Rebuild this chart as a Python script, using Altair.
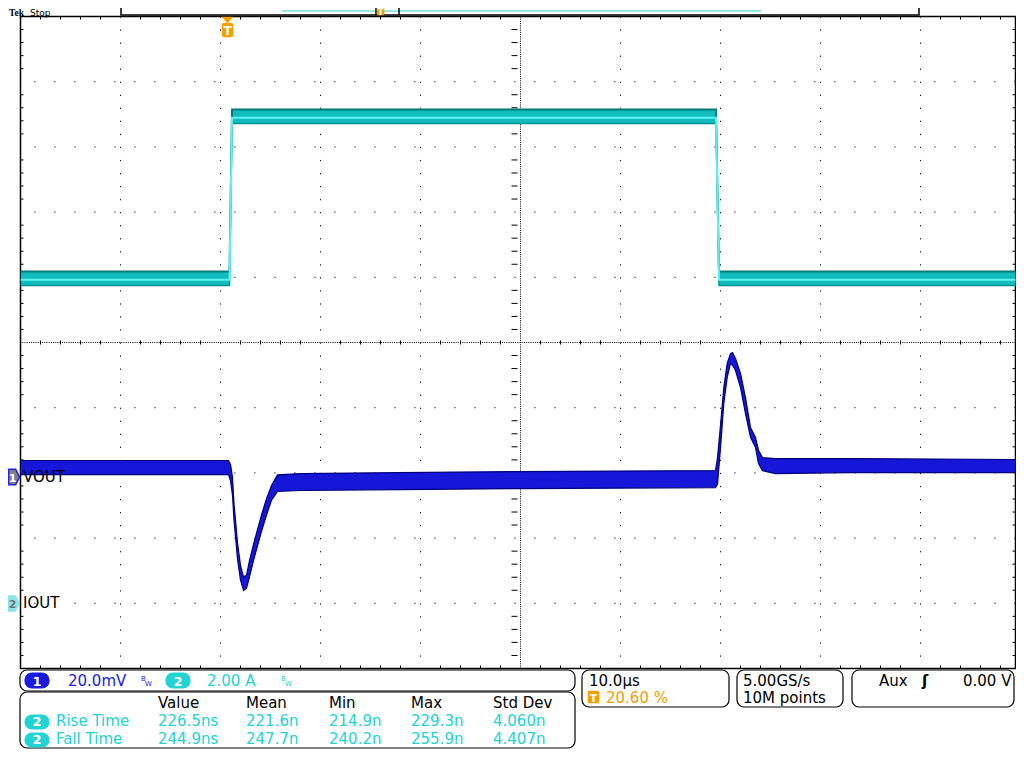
import altair as alt
import pandas as pd

# ---------------- values ----------------
# time: µs from the left edge of the screen (10 µs/div)
VOUT_T = [0.0, 20.8, 21.0, 21.2, 21.35, 21.7, 22.0, 22.3, 22.6, 22.9,
          23.3, 23.7, 24.1, 24.6, 25.1, 25.7, 28.0, 38.0, 50.0, 69.5,
          69.7, 70.0, 70.33, 70.67, 71.0, 71.2, 71.5, 72.0, 72.5, 73.0,
          73.5, 73.8, 74.2, 75.5, 83.0, 100.0]
# VOUT ripple envelope, mV relative to the channel-1 marker
VOUT_HI = [5.2, 5.2, 4.0, 0.0, -8.0, -20.0, -27.0, -30.5, -30.0, -25.5,
           -20.5, -16.0, -11.5, -6.5, -2.5, 0.8, 1.2, 1.5, 1.8, 2.1,
           6.0, 16.0, 27.6, 35.0, 38.0, 38.3, 36.5, 31.9, 24.5, 15.3,
           12.3, 8.3, 6.1, 5.8, 5.8, 5.5]
VOUT_LO = [0.9, 0.9, -1.0, -5.5, -13.0, -25.0, -31.5, -34.7, -34.0, -30.5,
           -25.5, -21.0, -16.5, -11.5, -7.0, -4.3, -4.0, -3.7, -3.4, -3.1,
           -2.0, 9.0, 22.7, 30.7, 35.0, 34.4, 32.8, 27.6, 19.6, 12.3,
           9.2, 4.3, 2.1, 1.2, 1.5, 1.5]
# IOUT envelope, A
IOUT_T = [0.0, 20.9, 21.15, 69.55, 69.85, 100.0]
IOUT_HI = [10.18, 10.18, 15.15, 15.15, 10.18, 10.18]
IOUT_LO = [9.75, 9.75, 14.72, 14.72, 9.75, 9.75]

CH1_SCALE, CH1_POS = 20.0, -2.07   # mV/div, div
CH2_SCALE, CH2_POS = 2.0, -4.0     # A/div, div

MEAS_HEAD = ["Value", "Mean", "Min", "Max", "Std Dev"]
MEAS_ROWS = ["Rise Time", "Fall Time"]
RISE_VALS = ["226.5ns", "221.6n", "214.9n", "229.3n", "4.060n"]
FALL_VALS = ["244.9ns", "247.7n", "240.2n", "255.9n", "4.407n"]

BLUE = "#1a1ae0"
CYAN = "#22d3d3"
ORANGE = "#f2a000"

vout = pd.DataFrame({"t": VOUT_T, "hi": VOUT_HI, "lo": VOUT_LO})
iout = pd.DataFrame({"t": IOUT_T, "hi": IOUT_HI, "lo": IOUT_LO})

W, H = 995, 652
xs = alt.Scale(domain=[0, 99.5], nice=False, zero=False)
ys = alt.Scale(domain=[-5, 5], nice=False, zero=False)

# ---------------- graticule (10 x 10 divisions, 5 minor per division) ----------------
def vrules(vals, dash):
    return alt.Chart(pd.DataFrame({"g": vals})).mark_rule(
        color="black", strokeWidth=1, strokeDash=dash).encode(
        x=alt.X("g:Q", scale=xs, axis=None))


def hrules(vals, dash):
    return alt.Chart(pd.DataFrame({"g": vals})).mark_rule(
        color="black", strokeWidth=1, strokeDash=dash).encode(
        y=alt.Y("g:Q", scale=ys, axis=None))


grid = [
    vrules([10 * k for k in range(1, 10) if k != 5], [1.2, 11.84]),
    vrules([2 * k for k in range(1, 50) if k % 5 != 0], [3, 321, 4, 321, 3]),
    vrules([50], [1, 1.2]),
    hrules([k for k in range(-4, 5) if k != 0], [1.2, 18.8]),
    hrules([round(0.2 * k, 1) for k in range(-24, 25) if k % 5 != 0], [3, 495, 6, 488, 3]),
    hrules([0], [1, 1.2]),
]

# ---------------- traces ----------------
ib = alt.Chart(iout).transform_calculate(
    yh=f"datum.hi / {CH2_SCALE} + ({CH2_POS})",
    yl=f"datum.lo / {CH2_SCALE} + ({CH2_POS})",
    yc=f"(0.4 * datum.hi + 0.6 * datum.lo) / {CH2_SCALE} + ({CH2_POS})",
)
X = alt.X("t:Q", scale=xs, axis=None)
i_area = ib.mark_area(color="#12bcbc", opacity=1, clip=True).encode(
    x=X, y=alt.Y("yl:Q", scale=ys, axis=None), y2="yh:Q")
i_hi = ib.mark_line(color="#007a7a", strokeWidth=2, clip=True).encode(
    x=X, y=alt.Y("yh:Q", scale=ys, axis=None))
i_lo = ib.mark_line(color="#009494", strokeWidth=1.5, clip=True).encode(
    x=X, y=alt.Y("yl:Q", scale=ys, axis=None))
i_c = ib.mark_line(color="#5ef2f2", strokeWidth=2, clip=True).encode(
    x=X, y=alt.Y("yc:Q", scale=ys, axis=None))

vb = alt.Chart(vout).transform_calculate(
    yh=f"datum.hi / {CH1_SCALE} + ({CH1_POS})",
    yl=f"datum.lo / {CH1_SCALE} + ({CH1_POS})",
)
v_area = vb.mark_area(color="#1616d8", opacity=1, clip=True).encode(
    x=X, y=alt.Y("yl:Q", scale=ys, axis=None), y2="yh:Q")
v_hi = vb.mark_line(color="#00007a", strokeWidth=1.2, clip=True).encode(
    x=X, y=alt.Y("yh:Q", scale=ys, axis=None))
v_lo = vb.mark_line(color="#00007a", strokeWidth=1.2, clip=True).encode(
    x=X, y=alt.Y("yl:Q", scale=ys, axis=None))

# ---------------- annotations (page pixel positions) ----------------
ANN = pd.DataFrame({"k": [0]})
OX, OY = 20.5, 16.5


def text(s, x, y, color="black", size=15, weight="normal", font="DejaVu Sans", align="left"):
    return alt.Chart(ANN).mark_text(
        align=align, baseline="alphabetic", font=font, fontSize=size,
        fontWeight=weight, color=color,
    ).encode(x=alt.value(x - OX), y=alt.value(y - OY), text=alt.value(s))


def box(x1, y1, x2, y2, fill="white", stroke="black", sw=1.2, r=0):
    return alt.Chart(ANN).mark_rect(
        fill=fill, stroke=stroke, strokeWidth=sw, cornerRadius=r,
    ).encode(x=alt.value(x1 - OX), x2=alt.value(x2 - OX),
             y=alt.value(y1 - OY), y2=alt.value(y2 - OY))


def hline(x1, x2, y, color, w=1.0):
    return alt.Chart(ANN).mark_rule(color=color, strokeWidth=w).encode(
        x=alt.value(x1 - OX), x2=alt.value(x2 - OX), y=alt.value(y - OY))


def vline(x, y1, y2, color, w=1.0):
    return alt.Chart(ANN).mark_rule(color=color, strokeWidth=w).encode(
        x=alt.value(x - OX), y=alt.value(y1 - OY), y2=alt.value(y2 - OY))


def symbol(path, x, y, size, fill, stroke, sw=1.0):
    return alt.Chart(ANN).mark_point(
        shape=path, filled=True, fill=fill, stroke=stroke, strokeWidth=sw,
        size=size, opacity=1,
    ).encode(x=alt.value(x - OX), y=alt.value(y - OY))


ann = []
# top status line (kept small so it stays inside the visible page area)
ann += [text("Tek", 9, 15.5, size=9.5, weight="bold", font="Liberation Serif"),
        text("Stop", 30, 15.5, size=9)]
ann += [box(121, 1, 919, 15, sw=1.5),
        hline(282, 761, 11, "#30d0d0", 1.2),
        vline(376, 1, 15, "black", 1.5), vline(399, 1, 15, "black", 1.5),
        box(377, 2, 384, 15, fill=ORANGE, stroke=ORANGE, sw=0.5, r=1),
        text("T", 380.5, 14.5, color="white", size=9, weight="bold", align="center")]
# trigger position marker
ann += [symbol("M -1 -0.55 L 1 -0.55 L 0 0.55 Z", 227.5, 20, 121, ORANGE, ORANGE, 0.5),
        box(222, 23, 233, 37, fill=ORANGE, stroke=ORANGE, sw=0.5, r=2),
        text("T", 227.5, 35, color="white", size=12, weight="bold", align="center")]
# channel markers and labels
PENT = "M -1 -1.4 L 0.3 -1.4 L 1 0 L 0.3 1.4 L -1 1.4 Z"
ann += [symbol(PENT, 14, 477, 121, "#7f7f7f", "#2020f0", 1.5),
        text("1", 12.5, 481.5, color="white", size=11, weight="bold", align="center"),
        text("VOUT", 23, 482),
        symbol(PENT, 14, 603.5, 121, "#8ae6e6", "#8ae6e6", 1.0),
        text("2", 12.5, 608, color="#707070", size=11, weight="bold", align="center"),
        text("IOUT", 23, 608)]

# channel readout box
ann += [box(20, 670, 575, 691, r=7),
        box(25, 673, 49, 688, fill=BLUE, stroke=BLUE, r=7),
        text("1", 37, 685.5, color="white", size=13, weight="bold", align="center"),
        text("20.0mV", 68, 686, color=BLUE),
        text("B", 141, 681, color=BLUE, size=7), text("W", 145, 686, color=BLUE, size=7),
        box(166, 673, 190, 688, fill=CYAN, stroke=CYAN, r=7),
        text("2", 178, 685.5, color="white", size=13, weight="bold", align="center"),
        text("2.00 A", 207, 686, color=CYAN),
        text("B", 281, 681, color=CYAN, size=7), text("W", 285, 686, color=CYAN, size=7)]

# measurement table
COL_X = [158, 246, 329, 411, 493]
ROW_Y = [708, 726, 744]
ann.append(box(20, 692, 575, 748, r=7))
for cx, h in zip(COL_X, MEAS_HEAD):
    ann.append(text(h, cx, ROW_Y[0]))
for ry, name, vals in zip(ROW_Y[1:], MEAS_ROWS, [RISE_VALS, FALL_VALS]):
    ann += [box(25, ry - 11, 49, ry + 3, fill=CYAN, stroke=CYAN, r=7),
            text("2", 37, ry - 0.5, color="white", size=13, weight="bold", align="center"),
            text(name, 56, ry, color=CYAN)]
    for cx, v in zip(COL_X, vals):
        ann.append(text(v, cx, ry, color=CYAN))

# timebase / acquisition / trigger boxes
ann += [box(582, 670, 729, 707, r=7),
        text("10.0µs", 589, 686),
        box(588, 691, 599, 703, fill=ORANGE, stroke=ORANGE, sw=0.5, r=1),
        text("T", 593.5, 702, color="white", size=11, weight="bold", align="center"),
        text("20.60 %", 606, 703, color=ORANGE),
        box(737, 670, 843, 707, r=7),
        text("5.00GS/s", 743, 686),
        text("10M points", 743, 703),
        box(852, 670, 1014, 707, r=7),
        text("Aux", 879, 686),
        text("ʃ", 922, 686, weight="bold"),
        text("0.00 V", 963, 686)]

chart = alt.layer(*grid, i_area, i_hi, i_lo, i_c, v_area, v_hi, v_lo, *ann).properties(
    width=W, height=H,
    autosize=alt.AutoSizeParams(type="none"),
    padding={"left": 12.5, "top": 8.5, "right": 0.5, "bottom": 91.5},
    background="white",
).configure_view(stroke="black", strokeWidth=1.5)

chart.save("out.html", embed_options={"renderer": "svg", "actions": False})
